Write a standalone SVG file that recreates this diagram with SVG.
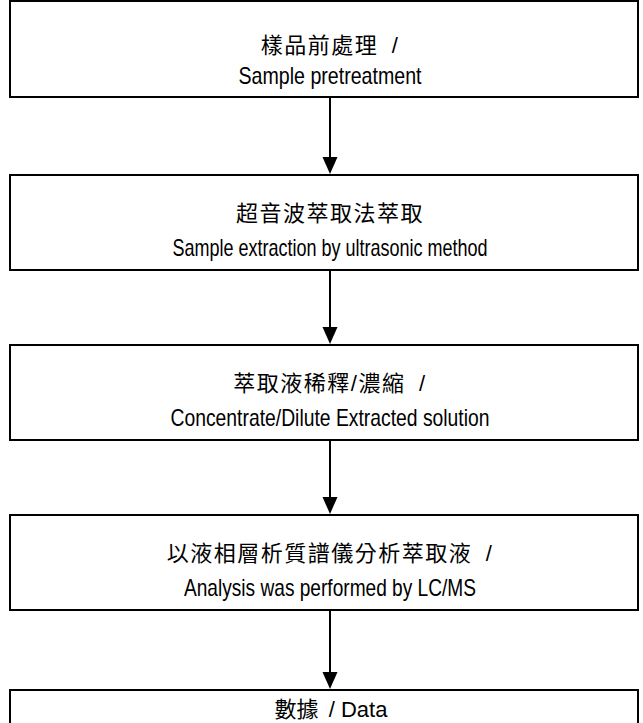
<svg xmlns="http://www.w3.org/2000/svg" width="643" height="723" viewBox="0 0 643 723">
<defs>
<style>
.box{fill:#fff;stroke:#000;stroke-width:2}
.t{font-family:"Liberation Sans","Noto Sans CJK TC",sans-serif;fill:#000;text-anchor:middle}
.cj{font-size:22px;letter-spacing:1.5px}
.en{font-size:24px}
.c{stroke:#000;stroke-width:2;fill:none}
.ah{fill:#000}
</style>
</defs>
<g id="connectors">
<line class="c" x1="330" y1="97" x2="330" y2="158"/>
<polygon class="ah" points="322.5,157 337.5,157 330,174"/>
<line class="c" x1="330" y1="270" x2="330" y2="328"/>
<polygon class="ah" points="322.5,327 337.5,327 330,344"/>
<line class="c" x1="330" y1="440" x2="330" y2="498"/>
<polygon class="ah" points="322.5,497 337.5,497 330,514"/>
<line class="c" x1="330" y1="610" x2="330" y2="673"/>
<polygon class="ah" points="322.5,672 337.5,672 330,689"/>
</g>
<g id="n1">
<rect class="box" x="10" y="1" width="628" height="96"/>
<text class="t cj" x="330" y="53">樣品前處理 <tspan dx="6">/</tspan></text>
<text class="t en" x="330" y="84" textLength="183" lengthAdjust="spacingAndGlyphs">Sample pretreatment</text>
</g>
<g id="n2">
<rect class="box" x="10" y="175" width="628" height="95"/>
<text class="t cj" x="330" y="221">超音波萃取法萃取</text>
<text class="t en" x="330" y="256" textLength="315" lengthAdjust="spacingAndGlyphs">Sample extraction by ultrasonic method</text>
</g>
<g id="n3">
<rect class="box" x="10" y="345" width="628" height="95"/>
<text class="t cj" x="330" y="391">萃取液稀釋/濃縮 <tspan dx="6">/</tspan></text>
<text class="t en" x="330" y="426" textLength="319" lengthAdjust="spacingAndGlyphs">Concentrate/Dilute Extracted solution</text>
</g>
<g id="n4">
<rect class="box" x="10" y="515" width="628" height="95"/>
<text class="t cj" x="330" y="561">以液相層析質譜儀分析萃取液 <tspan dx="6">/</tspan></text>
<text class="t en" x="330" y="596" textLength="292" lengthAdjust="spacingAndGlyphs">Analysis was performed by LC/MS</text>
</g>
<g id="n5">
<rect class="box" x="10" y="690" width="628" height="60"/>
<text class="t cj" x="331" y="717" style="letter-spacing:0">數據 <tspan dx="4">/ Data</tspan></text>
</g>
</svg>
